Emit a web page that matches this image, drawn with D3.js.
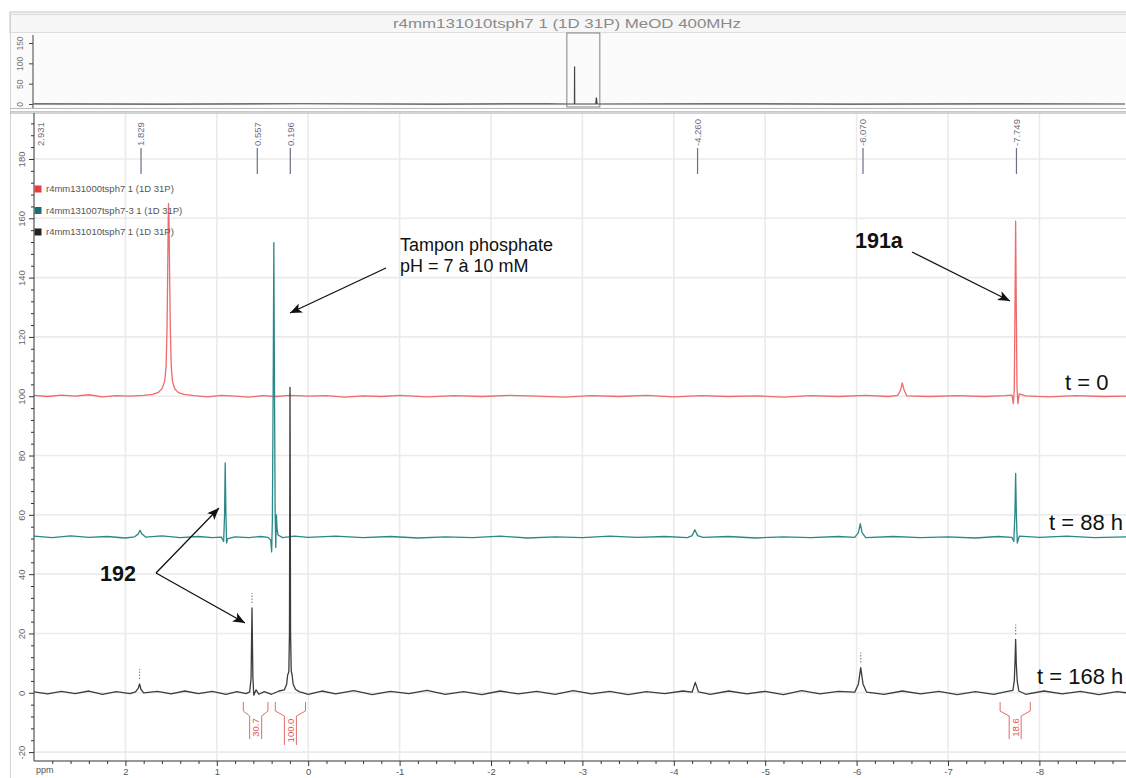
<!DOCTYPE html>
<html><head><meta charset="utf-8">
<script src="https://cdn.jsdelivr.net/npm/d3@7"></script>
<style>
body{margin:0;background:#fff;}
svg{display:block;font-family:"Liberation Sans",Arial,Helvetica,sans-serif;}
</style>
</head><body>
<svg id="c" width="1126" height="778"></svg>
<script>
// ---------------- DATA ----------------
const titleText = "r4mm131010tsph7 1 (1D 31P) MeOD 400MHz";
const legendLabels = ["r4mm131000tsph7 1 (1D 31P)", "r4mm131007tsph7-3 1 (1D 31P)", "r4mm131010tsph7 1 (1D 31P)"];
const seriesColors = ["#ef6a6a", "#2b8888", "#3c3c3c"];
const legendColors = ["#e83c3c", "#1c6f72", "#222222"];
const timeLabels = ["t = 0", "t = 88 h", "t = 168 h"];

const xMajorTicks = [2, 1, 0, -1, -2, -3, -4, -5, -6, -7, -8];
const yMajorTicks = [-20, 0, 20, 40, 60, 80, 100, 120, 140, 160, 180];
const miniYTicks = [0, 50, 100, 150];

// [ppm, intensity] — t = 0 (red)
const traceRed = [
[3.00,100.3],[2.85,99.9],[2.70,100.4],[2.55,100.0],[2.40,100.5],[2.25,99.8],[2.10,100.2],[1.95,100.0],[1.80,100.3],
[1.70,100.6],[1.64,101.3],[1.60,102.5],[1.57,105],[1.555,110],[1.545,122],[1.538,140],[1.532,158],[1.528,165],
[1.522,158],[1.516,140],[1.508,122],[1.498,110],[1.485,105],[1.46,102.5],[1.42,101.2],[1.36,100.6],[1.25,100.2],
[1.10,99.8],[0.95,100.3],[0.80,100.0],[0.65,99.7],[0.50,100.2],[0.35,99.9],[0.20,100.3],[0.00,100.0],[-0.20,100.2],
[-0.40,99.7],[-0.60,100.1],[-0.80,99.9],[-1.00,100.3],[-1.30,99.8],[-1.60,100.2],[-1.90,99.9],[-2.20,100.3],
[-2.50,100.0],[-2.80,99.7],[-3.10,100.2],[-3.40,99.9],[-3.70,100.3],[-4.00,99.8],[-4.30,100.2],[-4.60,99.9],
[-4.90,100.1],[-5.20,99.7],[-5.50,100.2],[-5.80,99.9],[-6.10,100.3],[-6.35,99.9],[-6.45,100.3],[-6.48,102],
[-6.50,104.5],[-6.52,102],[-6.55,100.1],[-6.80,99.9],[-7.10,100.2],[-7.40,99.9],[-7.62,100.2],[-7.70,100.4],
[-7.715,97.5],[-7.725,102],[-7.733,130],[-7.740,159],[-7.747,130],[-7.755,103],[-7.765,97.5],[-7.78,100.8],
[-7.85,100.1],[-8.10,99.8],[-8.40,100.2],[-8.70,99.9],[-9.00,100.1]
];
// t = 88 h (teal)
const traceTeal = [
[3.00,52.8],[2.80,52.3],[2.60,52.9],[2.40,52.4],[2.20,52.7],[2.00,52.2],[1.90,52.6],[1.86,53.5],[1.84,54.8],
[1.82,53.6],[1.78,52.5],[1.60,52.9],[1.40,52.3],[1.20,52.7],[1.05,52.3],[0.95,52.5],[0.925,51.0],[0.915,60],
[0.908,77.5],[0.900,60],[0.893,50.5],[0.88,52.0],[0.80,52.6],[0.65,52.3],[0.52,52.7],[0.44,52.4],[0.41,51.5],
[0.40,47.5],[0.392,58],[0.382,110],[0.376,151.8],[0.370,110],[0.362,62],[0.355,49],[0.348,60],[0.34,55],
[0.33,53.2],[0.28,52.3],[0.15,52.8],[0.00,52.4],[-0.30,52.8],[-0.60,52.3],[-0.90,52.7],[-1.20,52.2],[-1.50,52.6],
[-1.80,52.3],[-2.10,52.8],[-2.40,52.2],[-2.70,52.6],[-3.00,52.3],[-3.30,52.8],[-3.60,52.4],[-3.90,52.7],
[-4.15,52.3],[-4.20,53.0],[-4.23,55.0],[-4.26,53.0],[-4.32,52.4],[-4.60,52.7],[-4.90,52.2],[-5.20,52.6],
[-5.50,52.3],[-5.80,52.7],[-5.98,52.4],[-6.02,54],[-6.04,57],[-6.06,54],[-6.10,52.3],[-6.40,52.7],[-6.70,52.3],
[-7.00,52.6],[-7.30,52.2],[-7.55,52.7],[-7.70,52.4],[-7.72,51],[-7.732,60],[-7.740,74],[-7.748,60],[-7.758,50.5],
[-7.78,52.8],[-8.00,52.4],[-8.30,52.8],[-8.60,52.3],[-9.00,52.6]
];
// t = 168 h (black)
const traceBlack = [
[3.00,0.3],[2.85,-0.4],[2.70,0.5],[2.55,-0.3],[2.40,0.6],[2.25,-0.5],[2.10,0.4],[1.95,-0.3],[1.89,0.3],[1.86,1.5],
[1.845,3.0],[1.83,1.2],[1.80,0.0],[1.65,0.5],[1.50,-0.4],[1.35,0.6],[1.20,-0.3],[1.05,0.5],[0.90,-0.5],[0.78,0.4],
[0.68,-0.3],[0.64,0.3],[0.625,5],[0.615,28.6],[0.605,5],[0.595,-0.8],[0.57,1.0],[0.54,-0.5],[0.48,0.4],[0.40,-0.5],
[0.32,0.6],[0.26,1.0],[0.235,3],[0.225,6],[0.212,7],[0.205,20],[0.199,103],[0.193,20],[0.186,7.5],[0.176,6],
[0.165,3],[0.14,1.2],[0.10,0.4],[0.00,-0.5],[-0.15,0.6],[-0.30,-0.4],[-0.50,0.7],[-0.70,-0.6],[-0.90,0.5],
[-1.10,-0.3],[-1.30,0.8],[-1.50,-0.5],[-1.70,0.4],[-1.90,-0.6],[-2.10,0.6],[-2.30,-0.4],[-2.50,0.5],[-2.70,-0.5],
[-2.90,0.7],[-3.10,-0.4],[-3.30,0.5],[-3.50,-0.6],[-3.70,0.4],[-3.90,-0.3],[-4.10,0.6],[-4.20,0.2],[-4.235,3.5],
[-4.27,0.3],[-4.40,-0.5],[-4.60,0.6],[-4.80,-0.4],[-5.00,0.5],[-5.20,-0.6],[-5.40,0.7],[-5.60,-0.4],[-5.80,0.5],
[-5.98,0.2],[-6.02,3],[-6.045,8.5],[-6.07,3],[-6.11,0.2],[-6.30,-0.5],[-6.50,0.6],[-6.70,-0.4],[-6.90,0.5],
[-7.10,-0.6],[-7.30,0.4],[-7.50,-0.5],[-7.65,0.5],[-7.71,0.8],[-7.725,4],[-7.733,10],[-7.740,18],[-7.747,10],
[-7.757,4],[-7.775,0.6],[-7.85,-0.5],[-8.05,0.6],[-8.25,-0.4],[-8.45,0.5],[-8.65,-0.6],[-8.85,0.4],[-9.00,-0.2]
];
// overview strip (full sweep, black spectrum)
const traceMini = [
[197,0.5],[150,-0.5],[100,0.6],[50,-0.4],[10,0.5],[3,0],[0.5,0],[0.25,0],[0.199,92],[0.15,0],[-7.5,0],[-7.74,16],[-8.0,0],
[-50,0.5],[-100,-0.5],[-150,0.4],[-200,0]
];

const peakLabelPpm = [2.931, 1.829, 0.557, 0.196, -4.260, -6.070, -7.749];
const peakLabelText = ["2.931", "1.829", "0.557", "0.196", "-4.260", "-6.070", "-7.749"];
const peakLabelHasLine = [false, true, true, true, true, true, true];

const pickPpm = [1.845, 0.615, -6.045, -7.740];
const pickVal = [3.0, 28.6, 8.5, 18];

const integralFrom = [0.71, 0.36, -7.57];
const integralTo = [0.44, 0.03, -7.90];
const integralText = ["30.7", "100.0", "18.6"];

// ---------------- CHART ----------------
const svg = d3.select("#c");
const W = 1126, H = 778;
const x = d3.scaleLinear().domain([3, -9]).range([34, 1130.8]);
const y = d3.scaleLinear().domain([-23, 195.5]).range([761, 113]);
const mx = d3.scaleLinear().domain([197, -200]).range([33.5, 1125]);
const my = d3.scaleLinear().domain([0, 150]).range([104, 43]);

const defs = svg.append("defs");
defs.append("clipPath").attr("id", "clipMain").append("rect")
  .attr("x", 34).attr("y", 113).attr("width", W - 34).attr("height", 648);
defs.append("marker").attr("id", "ah").attr("viewBox", "0 0 12 10").attr("refX", 12).attr("refY", 5)
  .attr("markerWidth", 15).attr("markerHeight", 10).attr("markerUnits", "userSpaceOnUse").attr("orient", "auto")
  .append("path").attr("d", "M0,0 L12,5 L0,10 L3,5 Z").attr("fill", "#111");

// frame / title bar
svg.append("rect").attr("x", 10).attr("y", 12).attr("width", W).attr("height", 21)
  .attr("fill", "#f6f6f6").attr("stroke", "#c4c4c4");
svg.append("line").attr("x1", 10).attr("x2", W).attr("y1", 14.5).attr("y2", 14.5).attr("stroke", "#dadada");
svg.append("text").attr("x", 567).attr("y", 27.5).attr("text-anchor", "middle")
  .attr("font-size", 13.5).attr("fill", "#8a8a8a")
  .attr("textLength", 348).attr("lengthAdjust", "spacingAndGlyphs").text(titleText);
svg.append("line").attr("x1", 10.5).attr("x2", 10.5).attr("y1", 12).attr("y2", H).attr("stroke", "#d4d4d4");

// overview strip
svg.append("rect").attr("x", 11).attr("y", 33).attr("width", W).attr("height", 75).attr("fill", "#fbfbfb");
svg.append("line").attr("x1", 10).attr("x2", W).attr("y1", 108.5).attr("y2", 108.5).attr("stroke", "#b8b8b8");
svg.append("line").attr("x1", 10).attr("x2", W).attr("y1", 111.5).attr("y2", 111.5).attr("stroke", "#c8c8c8");
const mAxis = svg.append("g").attr("transform", "translate(33,0)")
  .call(d3.axisLeft(my).tickValues(miniYTicks).tickSize(4).tickFormat(d => String(d)));
mAxis.select(".domain").attr("stroke", "#444").attr("d", "M0,35V108");
mAxis.selectAll(".tick line").attr("stroke", "#444");
mAxis.selectAll(".tick text").attr("x", 0).attr("dy", 0).attr("text-anchor", "middle")
  .attr("transform", "translate(-10,0) rotate(-90)").attr("font-size", 8.5).attr("fill", "#777");
svg.append("path").datum(traceMini)
  .attr("d", d3.line().x(d => mx(d[0])).y(d => my(d[1])))
  .attr("fill", "none").attr("stroke", "#444").attr("stroke-width", 1.2);
svg.append("rect").attr("x", mx(3)).attr("y", 33).attr("width", mx(-9) - mx(3)).attr("height", 74)
  .attr("fill", "none").attr("stroke", "#666").attr("stroke-width", 0.8);

// main plot grid
const grid = svg.append("g").attr("clip-path", "url(#clipMain)");
grid.selectAll(".vg").data(xMajorTicks).join("line")
  .attr("x1", d => x(d)).attr("x2", d => x(d)).attr("y1", 113).attr("y2", 761)
  .attr("stroke", "#ebebeb").attr("stroke-width", 1.6);
grid.selectAll(".hg").data(yMajorTicks).join("line")
  .attr("x1", 34).attr("x2", W).attr("y1", d => y(d)).attr("y2", d => y(d))
  .attr("stroke", "#ebebeb").attr("stroke-width", 1.6);
svg.append("line").attr("x1", 10).attr("x2", W).attr("y1", 113).attr("y2", 113).attr("stroke", "#a8a8a8");

// peak labels at top
const pl = svg.append("g");
peakLabelPpm.forEach((p, i) => {
  const px = x(p);
  pl.append("text").attr("transform", `translate(${px + 3.3},146) rotate(-90)`)
    .attr("font-size", 9.5).attr("fill", "#6b6f86").text(peakLabelText[i]);
  if (peakLabelHasLine[i]) {
    pl.append("line").attr("x1", px).attr("x2", px).attr("y1", 148).attr("y2", 174)
      .attr("stroke", "#6b6f86").attr("stroke-width", 1.2);
  }
});

// spectra
const line = d3.line().x(d => x(d[0])).y(d => y(d[1]));
const specs = svg.append("g").attr("clip-path", "url(#clipMain)");
[traceRed, traceTeal, traceBlack].forEach((tr, i) => {
  specs.append("path").datum(tr).attr("d", line).attr("fill", "none")
    .attr("stroke", seriesColors[i]).attr("stroke-width", 1.3).attr("stroke-linejoin", "round");
});
// peak-pick markers on black trace
pickPpm.forEach((p, i) => {
  svg.append("line").attr("x1", x(p)).attr("x2", x(p))
    .attr("y1", y(pickVal[i]) - 5).attr("y2", y(pickVal[i]) - 15)
    .attr("stroke", "#888").attr("stroke-width", 1.2).attr("stroke-dasharray", "1.5,1.5");
});

// integrals
integralFrom.forEach((f, i) => {
  const x1 = x(f), x2 = x(integralTo[i]), xc = (x1 + x2) / 2;
  const g = svg.append("g").attr("stroke", "#e46a6a").attr("fill", "none").attr("stroke-width", 1);
  const bot = integralText[i].length > 4 ? 745 : 739;
  g.append("path").attr("d", `M${x1},702 V711 L${xc - 6},716 V${bot}`);
  g.append("path").attr("d", `M${x2},702 V711 L${xc + 6},716 V${bot}`);
  svg.append("text").attr("transform", `translate(${xc + 3.5},${(716 + bot) / 2}) rotate(-90)`)
    .attr("text-anchor", "middle").attr("font-size", 9.5).attr("fill", "#e05555").text(integralText[i]);
});

// axes
const yAx = svg.append("g").attr("transform", "translate(34,0)")
  .call(d3.axisLeft(y).tickValues(yMajorTicks).tickSize(5).tickFormat(d => String(d)));
yAx.select(".domain").attr("stroke", "#333").attr("d", "M0,113V761");
yAx.selectAll(".tick line").attr("stroke", "#333");
yAx.selectAll(".tick text").attr("x", 0).attr("dy", 0).attr("text-anchor", "middle")
  .attr("transform", "translate(-9,0) rotate(-90)").attr("font-size", 9.5).attr("fill", "#666");
const yMinor = d3.range(-20, 196, 4).filter(v => v % 20 !== 0);
svg.append("g").attr("transform", "translate(34,0)")
  .call(d3.axisLeft(y).tickValues(yMinor).tickSize(3).tickFormat(""))
  .call(g => g.select(".domain").remove()).selectAll("line").attr("stroke", "#333");

const xAx = svg.append("g").attr("transform", "translate(0,761)")
  .call(d3.axisBottom(x).tickValues(xMajorTicks).tickSize(5).tickFormat(d => String(d)));
xAx.select(".domain").attr("stroke", "#333").attr("d", "M34,0H1126");
xAx.selectAll(".tick line").attr("stroke", "#333");
xAx.selectAll(".tick text").attr("y", 7).attr("font-size", 9.5).attr("fill", "#555");
const xMinor = d3.range(2.8, -9, -0.2).map(v => Math.round(v * 10) / 10).filter(v => Math.abs(v - Math.round(v)) > 1e-6);
svg.append("g").attr("transform", "translate(0,761)")
  .call(d3.axisBottom(x).tickValues(xMinor).tickSize(3).tickFormat(""))
  .call(g => g.select(".domain").remove()).selectAll("line").attr("stroke", "#333");
svg.append("text").attr("x", 36).attr("y", 773).attr("font-size", 9).attr("fill", "#555").text("ppm");

// legend
legendLabels.forEach((t, i) => {
  const ly = 189 + i * 21.5;
  svg.append("rect").attr("x", 34.5).attr("y", ly - 3.5).attr("width", 7).attr("height", 7).attr("fill", legendColors[i]);
  svg.append("text").attr("x", 46).attr("y", ly + 3.2).attr("font-size", 9.5).attr("fill", "#555").text(t);
});

// annotations
const ann = svg.append("g").attr("fill", "#111");
ann.append("text").attr("x", 400).attr("y", 251).attr("font-size", 18).text("Tampon phosphate");
ann.append("text").attr("x", 400).attr("y", 272).attr("font-size", 18).text("pH = 7 à 10 mM");
ann.append("text").attr("x", 855).attr("y", 248).attr("font-size", 21.5).attr("font-weight", "bold").text("191a");
ann.append("text").attr("x", 100).attr("y", 581).attr("font-size", 21.5).attr("font-weight", "bold").text("192");
const tl = [[1065, 390], [1049, 530], [1037, 684]];
timeLabels.forEach((t, i) => ann.append("text").attr("x", tl[i][0]).attr("y", tl[i][1]).attr("font-size", 22).text(t));

const arrows = [
  [[386, 268], [290, 313]],
  [[912, 252], [1010, 301]],
  [[156, 573], [219, 508]],
  [[156, 573], [245, 623]]
];
arrows.forEach(a => {
  svg.append("line").attr("x1", a[0][0]).attr("y1", a[0][1]).attr("x2", a[1][0]).attr("y2", a[1][1])
    .attr("stroke", "#111").attr("stroke-width", 1.3).attr("marker-end", "url(#ah)");
});
</script>
</body></html>
